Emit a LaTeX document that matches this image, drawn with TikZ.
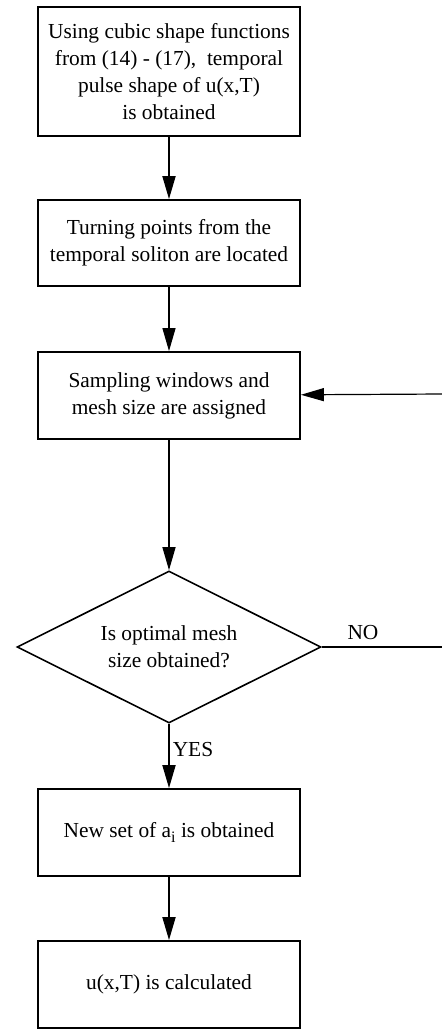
\documentclass[tikz,border=0pt]{standalone}
\usepackage{fontspec}
\setmainfont{Liberation Serif}
\usetikzlibrary{shapes.geometric,arrows.meta}

\begin{document}
\begin{tikzpicture}[x=0.5pt,y=-0.5pt]
    \tikzstyle{blk}=[rectangle, draw, line width=0.9pt, align=center, minimum width=131pt, inner sep=0pt, font=\fontsize{10.7}{13.5}\selectfont]
    \tikzstyle{dec}=[diamond, draw, line width=0.8pt, align=center, aspect=2, minimum width=152pt, minimum height=76pt, inner sep=0pt, font=\fontsize{10.7}{13.5}\selectfont]
    \tikzstyle{arr}=[-{Triangle[length=11.5pt,width=6.5pt]}, line width=0.9pt]
    \tikzstyle{lbl}=[font=\fontsize{10.7}{13.5}\selectfont]

    \useasboundingbox (0,0) rectangle (442,1030);

    \node[blk, minimum height=64.5pt] (shape) at (169,71.5) {Using cubic shape functions\\ from (14) - (17),~ temporal\\ pulse shape of u(x,T)\\ is obtained};
    \node[blk, minimum height=43pt] (turn) at (169,243) {Turning points from the\\ temporal soliton are located};
    \node[blk, minimum height=43.5pt] (samp) at (169,395.5) {Sampling windows and\\ mesh size are assigned};
    \node[dec] (opt) at (169,647) {Is optimal mesh\\ size obtained?};
    \node[blk, minimum height=43.5pt] (newa) at (169,832.5) {New set of a\raisebox{-0.55ex}{\fontsize{8}{8}\selectfont i} is obtained};
    \node[blk, minimum height=43.5pt] (calc) at (169,984.5) {u(x,T) is calculated};
    \node[lbl] (no) at (363,633) {NO};
    \node[lbl] (yes) at (193,750) {YES};

    \coordinate (back) at (442,394);
    \coordinate (noend) at (442,647);

    \draw[arr] (shape) -- (turn);
    \draw[arr, line width=0.6pt] (turn) -- (samp);
    \draw[arr, line width=0.6pt] (samp) -- (opt);
    \draw[arr] (opt) -- (newa);
    \draw[arr] (newa) -- (calc);
    \draw[arr, line width=0.6pt] (back) -- (samp);
    \draw[line width=0.6pt] (opt.east) -- (noend);
\end{tikzpicture}
\end{document}
